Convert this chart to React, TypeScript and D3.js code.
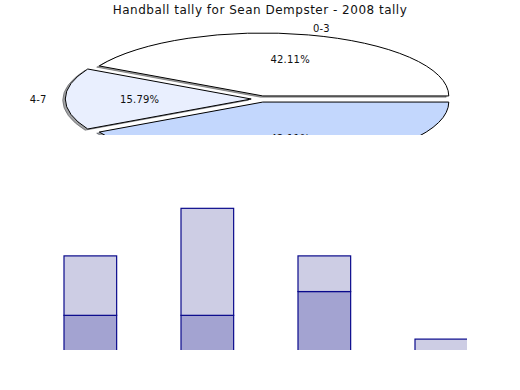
import React from 'react'
import * as d3 from 'd3'

// pie: tally buckets
const pieLabels = ['0-3', '4-7', '8-11']
const pieValues = [8, 3, 8]
const pieColors = ['#ffffff', '#e9effe', '#c3d7fd']

// stacked bars (bottom segment + top segment)
const barCats = ['0-3', '4-7', '8-11', '12+']
const lowerValues = [3, 3, 5, 0]
const upperValues = [5, 9, 3, 1]

const W = 520
const H = 390

export default function App() {
  // elliptical pie geometry (pie axes is not square)
  const cx = 260.5
  const cy = 99
  const rx = 186
  const ry = 63
  const explode = 0.05
  const total = d3.sum(pieValues)
  const pct = d3.format('.2f')

  const arcs = d3
    .pie<number>()
    .sort(null)
    .startAngle(0)
    .endAngle(2 * Math.PI)(pieValues)

  // unit arc; turned into an ellipse with scale()
  const arc = d3.arc<any>().innerRadius(0).outerRadius(1)

  const slices = arcs.map((a, i) => {
    // matplotlib style: 0 at 3 o'clock, counter-clockwise
    const t0 = a.startAngle
    const t1 = a.endAngle
    const tm = (t0 + t1) / 2
    const dx = explode * rx * Math.cos(tm)
    const dy = -explode * ry * Math.sin(tm)
    const d = arc({ startAngle: Math.PI / 2 - t1, endAngle: Math.PI / 2 - t0 })
    const fill = d3.rgb(pieColors[i])
    const shadow = d3.rgb(fill.r * 0.3, fill.g * 0.3, fill.b * 0.3).formatHex()
    return {
      d,
      dx,
      dy,
      tm,
      fill: pieColors[i],
      shadow,
      label: pieLabels[i],
      pct: pct((pieValues[i] / total) * 100) + '%'
    }
  })

  // bar axes
  const x = d3.scaleLinear().domain([0, 3]).range([64, 415])
  const bw = x(0.45) - x(0)
  const y = d3.scaleLinear().domain([0, 18]).range([351, 137])
  const clipTop = 135
  const clipBottom = 350
  const clipRight = 467

  const font = 'DejaVu Sans, sans-serif'

  return (
    <svg
      width={W}
      height={H}
      style={{ position: 'absolute', left: 0, top: 0, background: '#fff' }}
      fontFamily={font}
    >
      <defs>
        <clipPath id="barclip">
          <rect x={0} y={clipTop} width={clipRight} height={clipBottom - clipTop} />
        </clipPath>
      </defs>
      <text
        x={W / 2}
        y={14}
        textAnchor="middle"
        fontSize={12}
        letterSpacing={0.5}
        fill="#111"
      >
        Handball tally for Sean Dempster - 2008 tally
      </text>

      {/* shadows first, under every wedge */}
      {slices.map((s, i) => (
        <g
          key={'sh' + i}
          transform={`translate(${cx + s.dx - 2.6},${cy + s.dy + 1.2}) scale(${rx},${ry})`}
        >
          <path
            d={s.d || ''}
            fill={s.shadow}
            fillOpacity={0.5}
            stroke={s.shadow}
            strokeOpacity={0.5}
            strokeWidth={1}
            vectorEffect="non-scaling-stroke"
          />
        </g>
      ))}
      {slices.map((s, i) => (
        <g
          key={'w' + i}
          transform={`translate(${cx + s.dx},${cy + s.dy}) scale(${rx},${ry})`}
        >
          <path
            d={s.d || ''}
            fill={s.fill}
            stroke="#000"
            strokeWidth={1}
            strokeLinejoin="miter"
            vectorEffect="non-scaling-stroke"
          />
        </g>
      ))}
      {slices.map((s, i) => {
        const lx = cx + s.dx + 1.1 * rx * Math.cos(s.tm)
        const ly = cy + s.dy - 1.1 * ry * Math.sin(s.tm)
        const px = cx + s.dx + 0.6 * rx * Math.cos(s.tm)
        const py = cy + s.dy - 0.6 * ry * Math.sin(s.tm)
        return (
          <g key={'t' + i} fontSize={10} letterSpacing={0.2} fill="#111">
            <text
              x={lx}
              y={ly}
              dominantBaseline="central"
              textAnchor={Math.cos(s.tm) > 0 ? 'start' : 'end'}
            >
              {s.label}
            </text>
            <text x={px} y={py} dominantBaseline="central" textAnchor="middle">
              {s.pct}
            </text>
          </g>
        )
      })}

      {/* bar axes background hides the lower part of the pie */}
      <rect x={0} y={clipTop} width={W} height={H - clipTop} fill="#fff" />

      <g clipPath="url(#barclip)">
        {barCats.map((c, i) => (
          <g key={c}>
            <rect
              x={x(i)}
              y={y(lowerValues[i])}
              width={bw}
              height={y(0) - y(lowerValues[i])}
              fill="#a3a3d1"
              stroke="#0a0a8c"
              strokeWidth={1.2}
            />
            <rect
              x={x(i)}
              y={y(lowerValues[i] + upperValues[i])}
              width={bw}
              height={y(lowerValues[i]) - y(lowerValues[i] + upperValues[i])}
              fill="#cdcde4"
              stroke="#0a0a8c"
              strokeWidth={1.2}
            />
          </g>
        ))}
      </g>
    </svg>
  )
}
